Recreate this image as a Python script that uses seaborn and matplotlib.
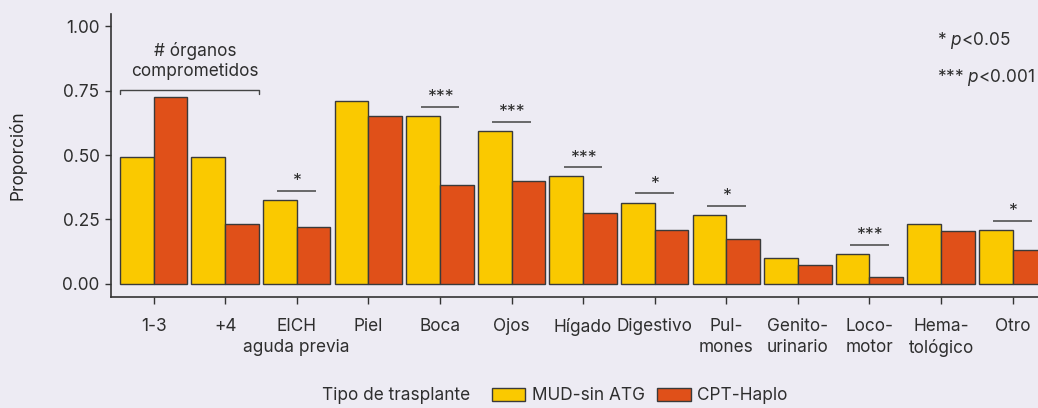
import matplotlib
matplotlib.use("Agg")
import matplotlib.pyplot as plt
from matplotlib.patches import Patch
import numpy as np
import pandas as pd
import seaborn as sns

# Categories (organs involved) and proportions per transplant type
categorias = ["1-3", "+4", "EICH\naguda previa", "Piel", "Boca", "Ojos", "Hígado",
              "Digestivo", "Pul-\nmones", "Genito-\nurinario", "Loco-\nmotor",
              "Hema-\ntológico", "Otro"]
mud_sin_atg = [0.491, 0.491, 0.325, 0.710, 0.652, 0.593, 0.417,
               0.315, 0.268, 0.099, 0.115, 0.232, 0.209]
cpt_haplo = [0.724, 0.232, 0.219, 0.652, 0.382, 0.398, 0.276,
             0.211, 0.176, 0.075, 0.025, 0.207, 0.130]
significancia = ["", "", "*", "", "***", "***", "***", "*", "*", "", "***", "", "*"]
grupos = ["MUD-sin ATG", "CPT-Haplo"]
colores = ["#FAC900", "#E05019"]

df = pd.DataFrame({
    "organo": categorias * 2,
    "proporcion": mud_sin_atg + cpt_haplo,
    "tipo": [grupos[0]] * len(categorias) + [grupos[1]] * len(categorias),
})

sns.set_theme(style="ticks")
bg = "#EDEBF3"
ink = "#2E2E2E"
fam = ["Inter", "DejaVu Sans"]
plt.rcParams["font.family"] = fam
plt.rcParams["mathtext.fontset"] = "custom"
plt.rcParams["mathtext.rm"] = "Inter"
plt.rcParams["mathtext.it"] = "Inter:italic"
plt.rcParams["text.color"] = ink

W, H = 1038, 408
fs = 12.4
fig = plt.figure(figsize=(W / 100, H / 100), dpi=100, facecolor=bg)
ax = fig.add_axes([110.6 / W, 111.3 / H, 945 / W, 283.2 / H])
ax.set_facecolor(bg)

sns.barplot(data=df, x="organo", y="proporcion", hue="tipo", hue_order=grupos,
            palette=colores, width=0.94, edgecolor="#3A3A3A", linewidth=1.0,
            saturation=1, legend=False, ax=ax)

ax.set_xlim(-0.6, len(categorias) - 0.4)
ax.set_ylim(-0.05, 1.05)
ax.set_yticks([0, 0.25, 0.5, 0.75, 1.0])
ax.set_yticklabels(["0.00", "0.25", "0.50", "0.75", "1.00"])
ax.set_xlabel("")
ax.set_ylabel("Proporción", fontsize=fs, labelpad=26)
for s in ["top", "right"]:
    ax.spines[s].set_visible(False)
for s in ["left", "bottom"]:
    ax.spines[s].set_color("#333333")
    ax.spines[s].set_linewidth(1.2)
ax.tick_params(axis="y", length=4.5, width=1, color="#333333", labelsize=fs, pad=3.5, labelcolor=ink)
ax.tick_params(axis="x", length=5, width=1, color="#333333", labelsize=fs, pad=10.5, labelcolor=ink)
for lbl in ax.get_xticklabels():
    lbl.set_multialignment("center")
    lbl.set_linespacing(1.3)

# Significance bars between the two transplant types
for i, sig in enumerate(significancia):
    if not sig:
        continue
    yl = max(mud_sin_atg[i], cpt_haplo[i]) + 0.036
    ax.plot([i - 0.27, i + 0.27], [yl, yl], color="#444444", lw=1.1, solid_capstyle="butt")
    ax.text(i, yl + 0.002, sig, ha="center", va="bottom", fontsize=fs + 0.5, color=ink)

# Bracket over the organ-count groups
yb = 0.752
ax.plot([-0.47, -0.47, 1.47, 1.47], [yb - 0.016, yb, yb, yb - 0.016], color="#444444", lw=1.0)
ax.text(0.58, 0.866, "# órganos\ncomprometidos", ha="center", va="center",
        fontsize=fs, linespacing=1.2)

# p-value key
ax.text(10.94, 0.947, r"* $p$<0.05", ha="left", va="center", fontsize=fs)
ax.text(10.94, 0.803, r"*** $p$<0.001", ha="left", va="center", fontsize=fs)

# Legend below the axes
fig.text(470 / W, (H - 396) / H, "Tipo de trasplante", ha="right", va="center", fontsize=fs)
handles = [Patch(facecolor=c, edgecolor="#3A3A3A", linewidth=1.0, label=g)
           for c, g in zip(colores, grupos)]
fig.legend(handles=handles, loc="center left", bbox_to_anchor=(491.5 / W, (H - 396) / H),
           ncol=2, frameon=False, fontsize=fs, borderpad=0, borderaxespad=0,
           handlelength=1.95, handleheight=0.75, handletextpad=0.4, columnspacing=0.7)

fig.savefig("out.png", dpi=100, facecolor=bg)
